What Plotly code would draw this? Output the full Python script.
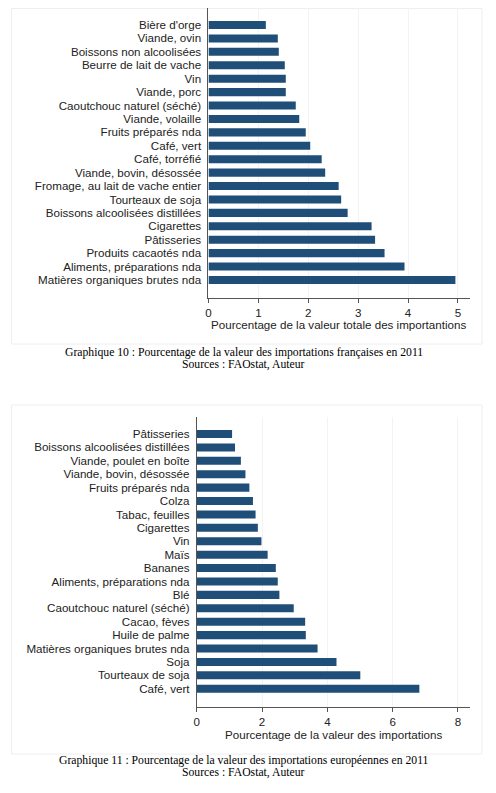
import plotly.graph_objects as go

# ---- Data (top-to-bottom as displayed) ----
fr_categories = [
    "Bière d'orge", "Viande, ovin", "Boissons non alcoolisées", "Beurre de lait de vache",
    "Vin", "Viande, porc", "Caoutchouc naturel (séché)", "Viande, volaille",
    "Fruits préparés nda", "Café, vert", "Café, torréfié", "Viande, bovin, désossée",
    "Fromage, au lait de vache entier", "Tourteaux de soja", "Boissons alcoolisées distillées",
    "Cigarettes", "Pâtisseries", "Produits cacaotés nda", "Aliments, préparations nda",
    "Matières organiques brutes nda",
]
fr_values = [1.15, 1.39, 1.41, 1.53, 1.55, 1.55, 1.75, 1.82, 1.95, 2.04,
             2.27, 2.34, 2.61, 2.66, 2.79, 3.27, 3.34, 3.53, 3.93, 4.95]

eu_categories = [
    "Pâtisseries", "Boissons alcoolisées distillées", "Viande, poulet en boîte",
    "Viande, bovin, désossée", "Fruits préparés nda", "Colza", "Tabac, feuilles",
    "Cigarettes", "Vin", "Maïs", "Bananes", "Aliments, préparations nda", "Blé",
    "Caoutchouc naturel (séché)", "Cacao, fèves", "Huile de palme",
    "Matières organiques brutes nda", "Soja", "Tourteaux de soja", "Café, vert",
]
eu_values = [1.08, 1.17, 1.35, 1.49, 1.61, 1.72, 1.80, 1.87, 1.98, 2.17,
             2.42, 2.48, 2.53, 2.97, 3.32, 3.34, 3.70, 4.28, 5.01, 6.82]

fr_ticks = [0, 1, 2, 3, 4, 5]
eu_ticks = [0, 2, 4, 6, 8]

fr_xtitle = "Pourcentage de la valeur totale des importantions"
eu_xtitle = "Pourcentage de la valeur des importations"
fr_caption = "Graphique 10 : Pourcentage de la valeur des importations françaises en 2011"
eu_caption = "Graphique 11 : Pourcentage de la valeur des importations européennes en 2011"
sources = "Sources : FAOstat, Auteur"

# ---- Layout helpers (page body has an 8px margin) ----
OFF = 8
W, H = 480, 777
BAR = "#1f4e79"
SANS = "Liberation Sans, Arial, sans-serif"
SERIF = "Liberation Serif, Times New Roman, serif"
FS = 11.6

def px(x):
    return (x - OFF) / W

def py(y):
    return 1 - (y - OFF) / H

fig = go.Figure()
fig.add_trace(go.Bar(y=fr_categories, x=fr_values, orientation="h", marker_color=BAR,
                     marker_line_width=0, width=0.6, xaxis="x", yaxis="y", showlegend=False))
fig.add_trace(go.Bar(y=eu_categories, x=eu_values, orientation="h", marker_color=BAR,
                     marker_line_width=0, width=0.6, xaxis="x2", yaxis="y2", showlegend=False))

xcommon = dict(showline=True, linecolor="#555555", linewidth=1, ticks="outside", ticklen=4,
               tickcolor="#555555", showgrid=True, gridcolor="#f3f3f3", gridwidth=1,
               zeroline=False, tickfont=dict(family=SANS, size=FS, color="#222222"),
               fixedrange=True)
ycommon = dict(type="category", showline=True, linecolor="#555555", linewidth=1, ticks="",
               showgrid=False, zeroline=False, ticklabelstandoff=4,
               tickfont=dict(family=SANS, size=FS, color="#222222"), fixedrange=True)

fig.update_layout(
    width=W, height=H, autosize=False,
    margin=dict(l=0, r=0, t=0, b=0),
    paper_bgcolor="white", plot_bgcolor="white",
    bargap=0.4,
    xaxis=dict(domain=[px(206.7), px(470)], range=[0, 5.245], tickvals=fr_ticks,
               anchor="y", **xcommon),
    yaxis=dict(domain=[py(297.7), py(8)], range=[20.32, -1.267], anchor="x",
               tickmode="array", tickvals=fr_categories, ticktext=fr_categories, **ycommon),
    xaxis2=dict(domain=[px(195), px(470)], range=[0, 8.375], tickvals=eu_ticks,
                anchor="y2", **xcommon),
    yaxis2=dict(domain=[py(706.7), py(417)], range=[20.34, -1.268], anchor="x2",
                tickmode="array", tickvals=eu_categories, ticktext=eu_categories, **ycommon),
    shapes=[
        dict(type="rect", xref="paper", yref="paper", x0=px(8.5), x1=px(482), y0=py(344), y1=py(8.5),
             line=dict(color="#eeeeee", width=1), fillcolor="rgba(0,0,0,0)", layer="below"),
        dict(type="rect", xref="paper", yref="paper", x0=px(8.5), x1=px(482), y0=py(754), y1=py(405),
             line=dict(color="#eeeeee", width=1), fillcolor="rgba(0,0,0,0)", layer="below"),
    ],
    annotations=[
        dict(text=fr_xtitle, xref="paper", yref="paper", x=px(338), y=py(325), xanchor="center",
             yanchor="middle", showarrow=False, font=dict(family=SANS, size=FS, color="#222222")),
        dict(text=eu_xtitle, xref="paper", yref="paper", x=px(332.5), y=py(734), xanchor="center",
             yanchor="middle", showarrow=False, font=dict(family=SANS, size=FS, color="#222222")),
        dict(text=fr_caption, xref="paper", yref="paper", x=px(242), y=py(352), xanchor="center",
             yanchor="middle", showarrow=False, font=dict(family=SERIF, size=11.7, color="black")),
        dict(text=sources, xref="paper", yref="paper", x=px(242), y=py(364), xanchor="center",
             yanchor="middle", showarrow=False, font=dict(family=SERIF, size=11.7, color="black")),
        dict(text=eu_caption, xref="paper", yref="paper", x=px(242), y=py(760), xanchor="center",
             yanchor="middle", showarrow=False, font=dict(family=SERIF, size=11.7, color="black")),
        dict(text=sources, xref="paper", yref="paper", x=px(242), y=py(772), xanchor="center",
             yanchor="middle", showarrow=False, font=dict(family=SERIF, size=11.7, color="black")),
    ],
)

fig.write_html("out.html", config=dict(displayModeBar=False))
